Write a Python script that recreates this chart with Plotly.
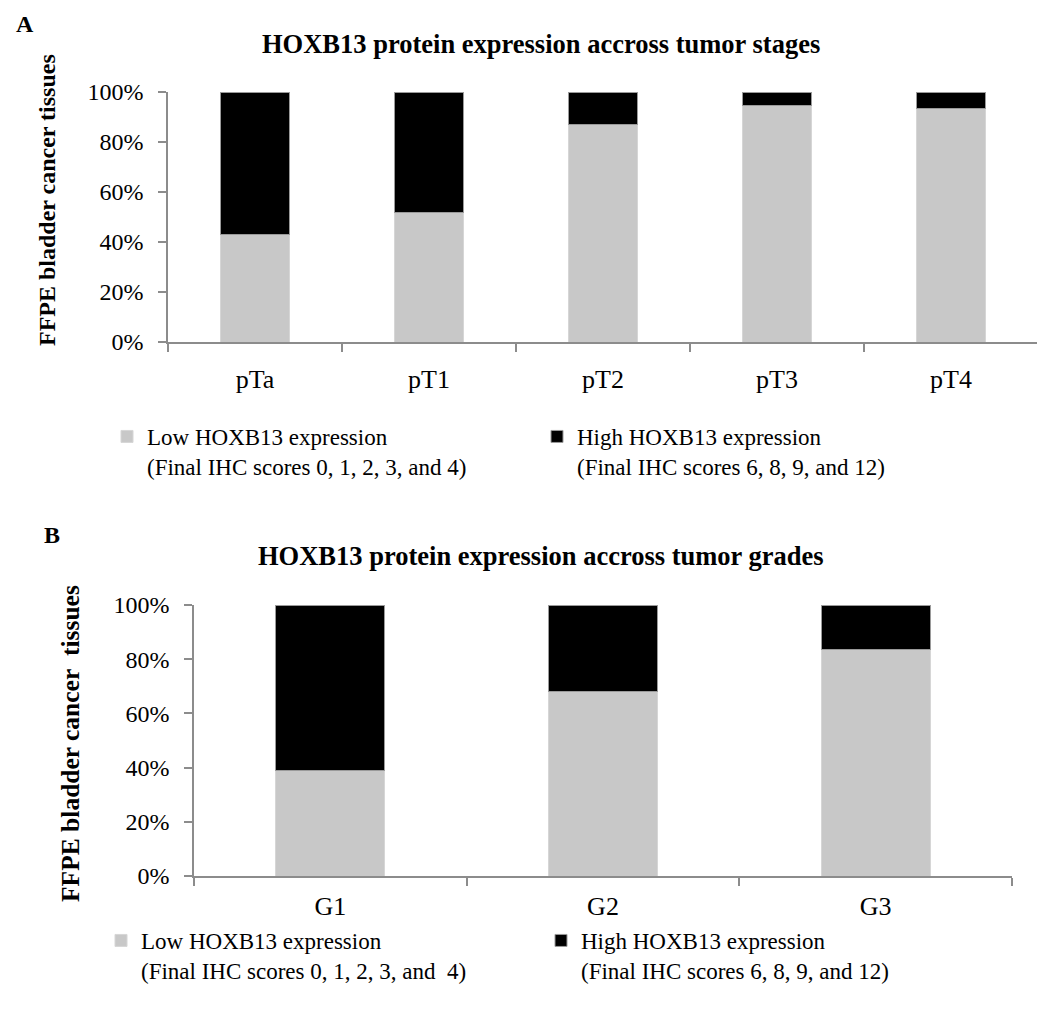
import plotly.graph_objects as go

# ---- data ----
stages = ["pTa", "pT1", "pT2", "pT3", "pT4"]
stage_low = [43, 52, 87.2, 94.7, 93.5]
stage_high = [57, 48, 12.8, 5.3, 6.5]

grades = ["G1", "G2", "G3"]
grade_low = [39, 68.2, 83.4]
grade_high = [61, 31.8, 16.6]

y_tick_vals = [0, 20, 40, 60, 80, 100]
y_tick_text = ["0%", "20%", "40%", "60%", "80%", "100%"]

low_name = "Low HOXB13 expression<br>(Final IHC scores 0, 1, 2, 3, and 4)"
low_name_b = "Low HOXB13 expression<br>(Final IHC scores 0, 1, 2, 3, and\u00a0 4)"
high_name = "High HOXB13 expression<br>(Final IHC scores 6, 8, 9, and 12)"

title_a = "HOXB13 protein expression accross tumor stages"
title_b = "HOXB13 protein expression accross tumor grades"
ytitle_a = "FFPE bladder cancer tissues"
ytitle_b = "FFPE bladder cancer\u00a0 tissues"

GRAY = "#c8c8c8"
BLACK = "#000000"
AXIS = "#8c8c8c"
FONT = "Liberation Serif"

# page has an 8px body margin; figure sized to fit the window
OFF = 8
W, H = 1037, 1011


def px_x(x):
    return (x - OFF) / W


def px_y(y):
    return 1 - (y - OFF) / H


fig = go.Figure()

fig.add_trace(go.Bar(x=stages, y=stage_low, name=low_name,
                     marker=dict(color=GRAY, line=dict(color="#d6d6d6", width=1)),
                     xaxis="x", yaxis="y", legend="legend"))
fig.add_trace(go.Bar(x=stages, y=stage_high, name=high_name,
                     marker=dict(color=BLACK, line=dict(color="#9a9a9a", width=1)),
                     xaxis="x", yaxis="y", legend="legend"))
fig.add_trace(go.Bar(x=grades, y=grade_low, name=low_name_b,
                     marker=dict(color=GRAY, line=dict(color="#d6d6d6", width=1)),
                     xaxis="x2", yaxis="y2", legend="legend2"))
fig.add_trace(go.Bar(x=grades, y=grade_high, name=high_name,
                     marker=dict(color=BLACK, line=dict(color="#9a9a9a", width=1)),
                     xaxis="x2", yaxis="y2", legend="legend2"))

xcommon = dict(showline=True, linecolor=AXIS, linewidth=1.5, ticks="outside", tickson="boundaries",
               ticklen=8, tickcolor=AXIS, tickwidth=1.5, showgrid=False, zeroline=False,
               tickfont=dict(family=FONT, size=26, color="#000"), automargin=False, fixedrange=True)
ycommon = dict(showline=True, linecolor=AXIS, linewidth=1.5, ticks="outside", ticklen=8, tickcolor=AXIS,
               tickwidth=1.5, showgrid=False, zeroline=False, range=[0, 100],
               tickmode="array", tickvals=y_tick_vals, ticktext=y_tick_text,
               tickfont=dict(family=FONT, size=24, color="#000"), automargin=False,
               fixedrange=True, ticklabelstandoff=10)

legend_common = dict(orientation="h", xanchor="left", yanchor="top", valign="top",
                     font=dict(family=FONT, size=23, color="#000"), bgcolor="rgba(0,0,0,0)",
                     entrywidthmode="pixels", itemclick=False, itemdoubleclick=False,
                     traceorder="normal", tracegroupgap=0)

fig.update_layout(
    width=W, height=H,
    margin=dict(l=0, r=0, t=0, b=0),
    paper_bgcolor="white", plot_bgcolor="white",
    barmode="stack", bargap=0.6,
    font=dict(family=FONT, color="#000"),
    xaxis=dict(domain=[px_x(168), px_x(1038)], anchor="y", ticklabelstandoff=13, **xcommon),
    yaxis=dict(domain=[px_y(342), px_y(92)], anchor="x", **ycommon),
    xaxis2=dict(domain=[px_x(194), px_x(1012)], anchor="y2", ticklabelstandoff=6, **xcommon),
    yaxis2=dict(domain=[px_y(876), px_y(605)], anchor="x2", **ycommon),
    legend=dict(x=px_x(107), y=px_y(415), entrywidth=385, **legend_common),
    legend2=dict(x=px_x(101), y=px_y(919), entrywidth=395, **legend_common),
    showlegend=True,
)

annots = [
    dict(text="<b>A</b>", x=px_x(14), y=px_y(24), xanchor="left", size=24),
    dict(text="<b>B</b>", x=px_x(42), y=px_y(535), xanchor="left", size=24),
    dict(text="<b>" + title_a + "</b>", x=px_x(541), y=px_y(44), xanchor="center", size=26.5),
    dict(text="<b>" + title_b + "</b>", x=px_x(541), y=px_y(556), xanchor="center", size=26.5),
]
for a in annots:
    fig.add_annotation(text=a["text"], x=a["x"], y=a["y"], xref="paper", yref="paper",
                       xanchor=a["xanchor"], yanchor="middle", showarrow=False,
                       font=dict(family=FONT, size=a["size"], color="#000"))

fig.add_annotation(text="<b>" + ytitle_a + "</b>", x=px_x(47), y=px_y(200), xref="paper", yref="paper",
                   textangle=-90, showarrow=False, xanchor="center", yanchor="middle",
                   font=dict(family=FONT, size=24, color="#000"))
fig.add_annotation(text="<b>" + ytitle_b + "</b>", x=px_x(70), y=px_y(744), xref="paper", yref="paper",
                   textangle=-90, showarrow=False, xanchor="center", yanchor="middle",
                   font=dict(family=FONT, size=25.5, color="#000"))

fig.write_html("out.html", config=dict(displayModeBar=False))
